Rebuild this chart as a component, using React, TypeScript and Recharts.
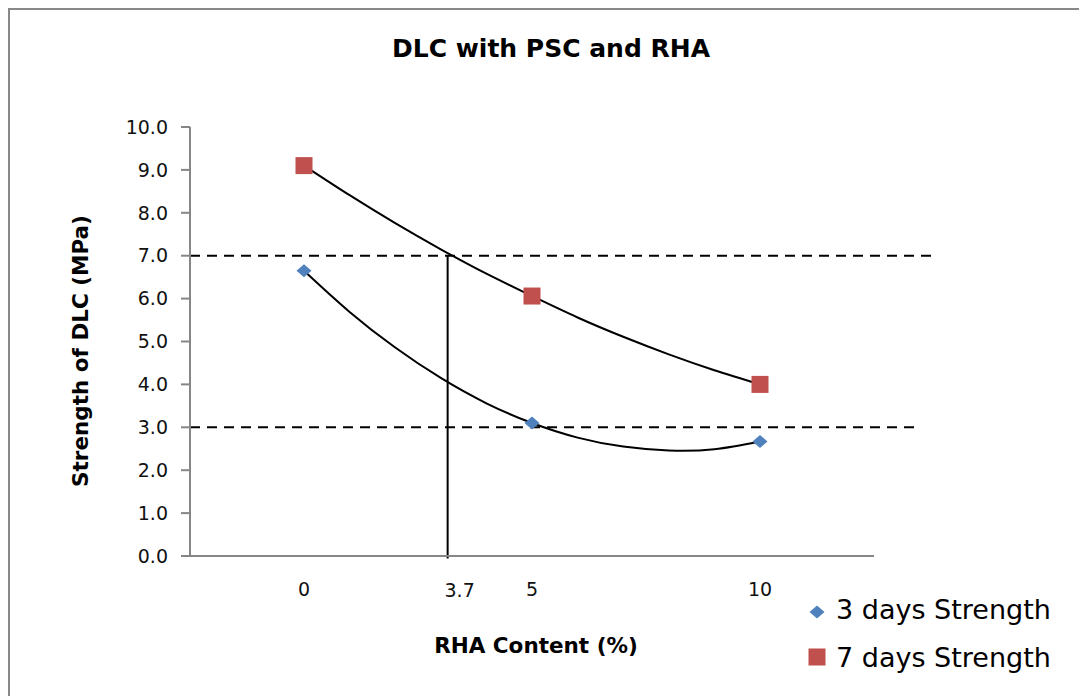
import React from 'react';
import {
  ComposedChart,
  XAxis,
  YAxis,
  Line,
  Scatter,
  ReferenceLine,
  Customized,
} from 'recharts';

// ---- data ----
const rhaContent = [0, 5, 10];
const strength3Days = [6.65, 3.1, 2.67];
const strength7Days = [9.1, 6.06, 4.0];

// polynomial trendlines
const trendX = [0, 1, 2, 3, 4, 5, 6, 7, 8, 9, 10];
const trend3Days = [6.65, 5.69, 4.86, 4.15, 3.56, 3.1, 2.76, 2.55, 2.46, 2.49, 2.67];
const trend7Days = [9.1, 8.41, 7.76, 7.15, 6.58, 6.06, 5.56, 5.11, 4.7, 4.33, 4.0];

const yTicks = [0, 1, 2, 3, 4, 5, 6, 7, 8, 9, 10];
const xTicks = [0, 5, 10];
const xDomain = [-2.5, 12.5];
const yDomain = [0, 10];

const upperLimit = 7.0;
const lowerLimit = 3.0;
const upperLimitEnd = 13.78;
const lowerLimitEnd = 13.42;
const markerX = 3.15;
const markerLabel = '3.7';

const seriesNames = ['3 days Strength', '7 days Strength'];
const chartTitle = 'DLC with PSC and RHA';
const xTitle = 'RHA Content (%)';
const yTitle = 'Strength of DLC (MPa)';

const BLUE = '#4F81BD';
const RED = '#C0504D';
const AXIS = '#868686';
const FONT = 'DejaVu Sans';

const scatter3 = rhaContent.map((x, i) => ({ x, y: strength3Days[i] }));
const scatter7 = rhaContent.map((x, i) => ({ x, y: strength7Days[i] }));
const line3 = trendX.map((x, i) => ({ x, y: trend3Days[i] }));
const line7 = trendX.map((x, i) => ({ x, y: trend7Days[i] }));

const Diamond = (props: any) => {
  const { cx, cy } = props;
  if (cx == null || cy == null) return null;
  return (
    <path
      d={`M${cx - 7.5},${cy} L${cx},${cy - 6.5} L${cx + 7.5},${cy} L${cx},${cy + 6.5} Z`}
      fill={BLUE}
    />
  );
};

const Square = (props: any) => {
  const { cx, cy } = props;
  if (cx == null || cy == null) return null;
  return <rect x={cx - 8.5} y={cy - 8.5} width={17} height={17} fill={RED} />;
};

const Decorations = () => (
  <g>
    <rect x={1} y={1} width={1300} height={1300} fill="none" stroke="#888" strokeWidth={2} />
    <text
      x={543}
      y={49}
      textAnchor="middle"
      fontFamily={FONT}
      fontWeight="bold"
      fontSize={25}
      fill="#000"
    >
      {chartTitle}
    </text>
    <text
      x={528}
      y={645}
      textAnchor="middle"
      fontFamily={FONT}
      fontWeight="bold"
      fontSize={21.5}
      fill="#000"
    >
      {xTitle}
    </text>
    <text
      x={80}
      y={343}
      textAnchor="middle"
      fontFamily={FONT}
      fontWeight="bold"
      fontSize={21.5}
      fill="#000"
      transform="rotate(-90, 80, 343)"
    >
      {yTitle}
    </text>
    {/* legend */}
    <path d="M801.5,604 L809,597.5 L816.5,604 L809,610.5 Z" fill={BLUE} />
    <text x={828} y={611} fontFamily={FONT} fontSize={27} fill="#000">
      {seriesNames[0]}
    </text>
    <rect x={800.5} y={640.5} width={17} height={17} fill={RED} />
    <text x={828} y={659} fontFamily={FONT} fontSize={27} fill="#000">
      {seriesNames[1]}
    </text>
  </g>
);

const MarkerLabel = (props: any) => {
  const vb = props.viewBox || {};
  const x = (vb.x ?? 0) + 12;
  const y = (vb.y ?? 0) + (vb.height ?? 0) + 38;
  return (
    <text x={x} y={y} textAnchor="middle" fontFamily={FONT} fontSize={19} fill="#111">
      {markerLabel}
    </text>
  );
};

export default function App() {
  return (
    <div style={{ width: 1079, height: 688, fontFamily: FONT }}>
      <ComposedChart
        width={1079}
        height={688}
        margin={{ top: 119, right: 213, bottom: 0, left: 0 }}
      >
        <Customized component={Decorations} />
        <XAxis
          type="number"
          dataKey="x"
          domain={xDomain}
          ticks={xTicks}
          interval={0}
          allowDataOverflow
          tickLine={false}
          tickSize={0}
          tickMargin={27}
          height={140}
          axisLine={{ stroke: AXIS, strokeWidth: 2 }}
          tick={{ fontSize: 19, fill: '#111', fontFamily: FONT }}
        />
        <YAxis
          type="number"
          dataKey="y"
          domain={yDomain}
          ticks={yTicks}
          interval={0}
          width={182}
          tickSize={9}
          tickMargin={13}
          tickFormatter={(v: number) => v.toFixed(1)}
          axisLine={{ stroke: AXIS, strokeWidth: 2 }}
          tickLine={{ stroke: AXIS, strokeWidth: 2 }}
          tick={{ fontSize: 19, fill: '#111', fontFamily: FONT }}
        />
        <ReferenceLine
          segment={[
            { x: xDomain[0], y: upperLimit },
            { x: upperLimitEnd, y: upperLimit },
          ]}
          ifOverflow="visible"
          stroke="#000"
          strokeWidth={2}
          strokeDasharray="10 7"
        />
        <ReferenceLine
          segment={[
            { x: xDomain[0], y: lowerLimit },
            { x: lowerLimitEnd, y: lowerLimit },
          ]}
          ifOverflow="visible"
          stroke="#000"
          strokeWidth={2}
          strokeDasharray="10 7"
        />
        <ReferenceLine
          segment={[
            { x: markerX, y: upperLimit },
            { x: markerX, y: -0.06 },
          ]}
          ifOverflow="visible"
          stroke="#000"
          strokeWidth={2}
          label={MarkerLabel}
        />
        <Scatter
          name={seriesNames[0]}
          data={scatter3}
          dataKey="y"
          shape={Diamond}
          isAnimationActive={false}
        />
        <Scatter
          name={seriesNames[1]}
          data={scatter7}
          dataKey="y"
          shape={Square}
          isAnimationActive={false}
        />
        <Line
          data={line3}
          dataKey="y"
          type="natural"
          dot={false}
          activeDot={false}
          stroke="#000"
          strokeWidth={2}
          isAnimationActive={false}
          legendType="none"
        />
        <Line
          data={line7}
          dataKey="y"
          type="natural"
          dot={false}
          activeDot={false}
          stroke="#000"
          strokeWidth={2}
          isAnimationActive={false}
          legendType="none"
        />
      </ComposedChart>
    </div>
  );
}
